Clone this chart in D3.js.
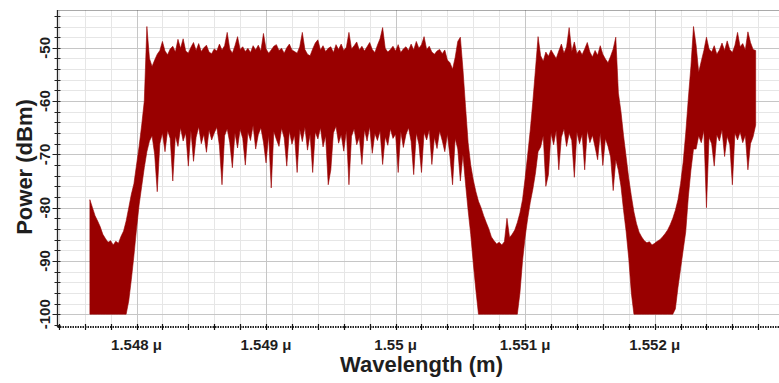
<!DOCTYPE html>
<html>
<head>
<meta charset="utf-8">
<script src="https://cdn.jsdelivr.net/npm/d3@7"></script>
<style>
  html, body { margin: 0; padding: 0; background: #fff; }
  svg { display: block; font-family: "Liberation Sans", Arial, sans-serif; }
</style>
</head>
<body>
<svg id="chart" width="779" height="383"></svg>
<script>
// Spectrum sampled every 0.00002 um starting at 1.54764 um
const wlStart = 1.54764;
const wlStep = 0.00002;

// upper envelope of the noisy trace (dBm)
const upperDbm = [
  -78.5, -80, -81.5, -82.5, -83.6, -85, -85.8, -86.5, -86.2, -87, -86.3, -86.7, -85.4, -84.4, -82.5, -80,
  -77.5, -75.5, -72, -68.5, -64.5, -60, -46,
  -52, -53.5, -52.3, -51.2, -50.5, -48.8, -50.6, -51.3, -50.2, -49.7,
  -50.8, -48.4, -50.1, -48.3, -50.6, -51, -49.9, -49, -50.5, -49.2,
  -50.7, -50, -49.5, -50.8, -51.1, -50.2, -50.6, -49.3, -50.4, -49.6,
  -47.1, -50.2, -51, -49.6, -47.9, -50.3, -49.8, -50.7, -50.1, -50.9,
  -49.6, -50.4, -49.5, -50.6, -47.3, -50.2, -51, -50.4, -49.7, -49.4,
  -50.5, -50.1, -51, -50, -49.3, -50.4, -50.7, -51, -49.8, -47.1,
  -50.3, -51.2, -51.5, -50.2, -49.1, -48.5, -50.4, -49.6, -50.7, -50.1,
  -49.8, -50.9, -49.4, -50.3, -49.3, -50.5, -49.9, -47.1, -50.2, -49.6,
  -48.9, -50.4, -49.7, -50.6, -49.8, -49, -50.3, -50.9, -49.5, -48.3,
  -46.2, -50.1, -50.8, -50.3, -49.7, -50.6, -49.4, -50.9, -50.2, -49.8,
  -50.5, -49.3, -50.4, -48.8, -50.1, -49.4, -47.9, -50.3, -49.7, -50.8,
  -51.2, -50.6, -50.3, -51.1, -50.4, -52.3, -52.8, -54, -51.8, -48.8,
  -48,
  -54, -61, -67.8, -72, -74.8, -77, -78.8, -80, -81.5, -82.8, -84, -85.5, -86.2, -86.8, -86.5,
  -87, -86.4, -82, -85.6, -85, -84.2, -82.8, -81, -78.5, -74.5, -70, -65.4, -60, -54, -47.9,
  -51.5, -52.5, -50.8, -51.6, -50.4, -51.2, -52, -50.6, -49.3, -51, -49.8, -46.2, -50.7, -48.9, -51.1,
  -50.4, -51.3, -50.2, -49, -50.8, -51.7, -50.5, -51.4, -49.6, -51.2, -52.1, -52.8, -51.6, -50.2, -48,
  -58.5, -62, -66.5, -70.5, -74.5, -77.8, -80.8, -83, -84.6, -85.5, -86.2, -86.6, -86.4, -87, -86.7,
  -86.3, -86, -85.5, -84.9, -84.2, -83.2, -82, -80.5, -78.5, -75.5, -71.5, -66, -59.5, -53.5, -46,
  -49.5, -54.6, -52.5, -50.5, -48, -50.2, -50.8, -49.6, -51.2, -50.4, -49.1, -50.5,
  -48.7, -50.3, -50.9, -49.5, -47.1, -49.8, -49.2, -50.4, -47, -49, -50.3, -50.5
];

// lower envelope of the noisy trace (dBm); the instrument floor is -100
const lowerDbm = [
  -100, -100, -100, -100, -100, -100, -100, -100, -100, -100, -100, -100, -100, -100, -100,
  -97.5, -93.5, -89, -84, -79.5, -76, -72.5, -69.5,
  -67.5, -66.5, -70, -77, -68, -66, -69.5, -65.5, -67, -75,
  -66.5, -68.5, -65, -67.5, -66, -72.2, -65.5, -71.3, -66.8, -64.8,
  -68, -66.2, -69.6, -65.4, -67.3, -66, -64.9, -68.4, -75.7, -66.5,
  -65.2, -67.8, -72.5, -66, -68.8, -65.3, -67, -72, -65.8, -67.4,
  -64.6, -69, -66.3, -65, -67.7, -71.6, -66.4, -76.3, -65.7, -67.2,
  -68.5, -65.1, -66.9, -72.2, -65.6, -68.1, -66.4, -73.4, -65.3, -67.6,
  -64.9, -69.2, -66.2, -73.4, -65.8, -67.1, -65, -68.6, -66.5, -75.7,
  -72.9, -66, -64.7, -67.9, -66.3, -69.4, -65.5, -75.7, -66.6, -65.2,
  -68.2, -66.8, -71.9, -65.4, -67.5, -64.8, -69.8, -66.1, -67.4, -65.6,
  -71.9, -66.7, -68.3, -65.2, -67, -66.2, -73.4, -65.7, -68.7, -66.3,
  -65, -67.6, -73.8, -66, -68.1, -73.4, -65.9, -67.3, -65.4, -71.9,
  -66.8, -68.9, -65.6, -67.4, -69.5, -66.2, -70.5, -75.7, -67, -69,
  -75,
  -70, -75.5, -80.5, -85, -90.5, -95.5, -100, -100, -100, -100, -100, -100, -100, -100, -100,
  -100, -100, -100, -100, -100, -100, -100, -96, -90, -85.5, -82, -79, -76.5, -73.5, -69.5,
  -68.6, -66.5, -76, -73.8, -66, -68.2, -65.5, -72.9, -66.8, -65.2, -68.5, -66, -67.4, -74.3, -65.8,
  -68, -66.2, -72.9, -65.5, -67.8, -66.4, -68.6, -71, -66, -72.1, -67, -68.5, -70.5, -76.8, -71,
  -73, -76, -80.5, -84.5, -89.5, -96, -100, -100, -100, -100, -100, -100, -100, -100, -100,
  -100, -100, -100, -100, -100, -100, -100, -99, -95, -91.5, -88, -84.5, -78, -73, -69,
  -69, -66.5, -67.8, -65.5, -80, -66.8, -68, -72.2, -66.3, -67.5, -65.4, -70.4,
  -66.6, -68.2, -75.7, -66, -67.3, -65.8, -67.8, -66.4, -72.9, -68, -66.7, -64.5
];

const xTicks = [1.548, 1.549, 1.55, 1.551, 1.552];
const xTickLabels = ['1.548 \u03bc', '1.549 \u03bc', '1.55 \u03bc', '1.551 \u03bc', '1.552 \u03bc'];
const yTicks = [-100, -90, -80, -70, -60, -50];

const svg = d3.select('#chart');
const plotLeft = 57.5, plotRight = 779, plotTop = 10, plotBottom = 327;

const x = d3.scaleLinear().domain([1.54739, 1.55296]).range([plotLeft, plotRight]);
const y = d3.scaleLinear().domain([-102.4, -42.9]).range([plotBottom, plotTop]);

// Grid
const xMinor = d3.range(7737, 7765).map(k => ({ v: k * 0.0002, major: k % 5 === 0 }));
const yMinor = d3.range(-100, -43, 2).map(v => ({ v, major: v % 10 === 0 }));

const gridG = svg.append('g');
for (const pass of [false, true]) {
  xMinor.filter(d => d.major === pass).forEach(d => {
    gridG.append('line')
      .attr('x1', Math.round(x(d.v)) + 0.5).attr('x2', Math.round(x(d.v)) + 0.5)
      .attr('y1', plotTop).attr('y2', plotBottom)
      .attr('stroke', pass ? '#c6c6c6' : '#e6e6e6').attr('stroke-width', 1);
  });
  yMinor.filter(d => d.major === pass).forEach(d => {
    gridG.append('line')
      .attr('x1', plotLeft).attr('x2', plotRight)
      .attr('y1', Math.round(y(d.v)) + 0.5).attr('y2', Math.round(y(d.v)) + 0.5)
      .attr('stroke', pass ? '#c6c6c6' : '#e6e6e6').attr('stroke-width', 1);
  });
}

// Trace
svg.append('clipPath').attr('id', 'plot-clip')
  .append('rect').attr('x', plotLeft).attr('y', plotTop)
  .attr('width', plotRight - plotLeft).attr('height', plotBottom - plotTop);

const area = d3.area()
  .x((d, i) => x(wlStart + i * wlStep))
  .y0((d, i) => y(lowerDbm[i]))
  .y1(d => y(d));

svg.append('path')
  .attr('clip-path', 'url(#plot-clip)')
  .attr('d', area(upperDbm))
  .attr('fill', '#990000')
  .attr('stroke', '#990000')
  .attr('stroke-width', 0.6)
  .attr('stroke-linejoin', 'miter');

// Top border (dotted)
svg.append('line')
  .attr('x1', plotLeft).attr('x2', plotRight).attr('y1', plotTop + 0.5).attr('y2', plotTop + 0.5)
  .attr('stroke', '#555').attr('stroke-dasharray', '1,1');

// Left axis
svg.append('line')
  .attr('x1', plotLeft).attr('x2', plotLeft).attr('y1', plotTop).attr('y2', plotBottom)
  .attr('stroke', '#222').attr('stroke-width', 1.3);
yMinor.concat([{ v: -102, major: false }]).forEach(d => {
  svg.append('line')
    .attr('x1', plotLeft - (d.major ? 5 : 3)).attr('x2', plotLeft + 3)
    .attr('y1', Math.round(y(d.v)) + 0.5).attr('y2', Math.round(y(d.v)) + 0.5)
    .attr('stroke', '#222').attr('stroke-width', 1);
});
svg.append('g').selectAll('text')
  .data(yTicks)
  .join('text')
  .attr('transform', d => `translate(${plotLeft - 8},${y(d)}) rotate(-90)`)
  .attr('text-anchor', 'middle')
  .attr('fill', '#1e1e1e')
  .style('font-size', '15px')
  .style('font-weight', 'bold')
  .text(d => d);

// Bottom axis (dotted bar with ticks)
svg.append('line')
  .attr('x1', plotLeft).attr('x2', plotRight).attr('y1', plotBottom).attr('y2', plotBottom)
  .attr('stroke', '#222').attr('stroke-width', 2.2).attr('stroke-dasharray', '1.5,1');
xMinor.forEach(d => {
  svg.append('line')
    .attr('x1', Math.round(x(d.v)) + 0.5).attr('x2', Math.round(x(d.v)) + 0.5)
    .attr('y1', plotBottom - 3).attr('y2', plotBottom + 3)
    .attr('stroke', '#111').attr('stroke-width', 1.2);
});
svg.append('g').selectAll('text')
  .data(xTicks)
  .join('text')
  .attr('x', d => x(d))
  .attr('y', 350)
  .attr('text-anchor', 'middle')
  .attr('fill', '#1e1e1e')
  .style('font-size', '15px')
  .style('font-weight', 'bold')
  .text((d, i) => xTickLabels[i]);

// Axis titles
svg.append('text')
  .attr('x', 421.5).attr('y', 372)
  .attr('text-anchor', 'middle')
  .attr('fill', '#1e1e1e')
  .style('font-size', '22px')
  .style('font-weight', 'bold')
  .text('Wavelength (m)');

svg.append('text')
  .attr('transform', 'translate(32,167) rotate(-90)')
  .attr('text-anchor', 'middle')
  .attr('fill', '#1e1e1e')
  .style('font-size', '22px')
  .style('font-weight', 'bold')
  .text('Power (dBm)');
</script>
</body>
</html>
